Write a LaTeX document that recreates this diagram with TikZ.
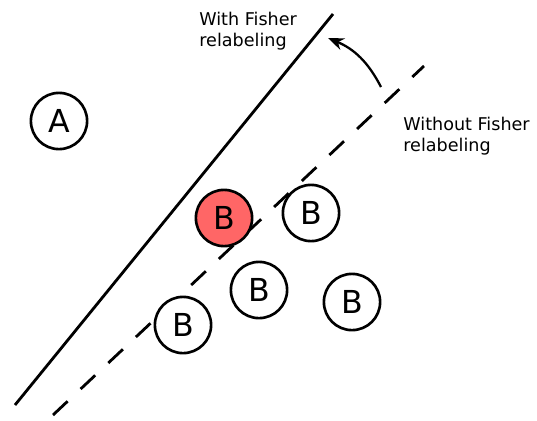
\documentclass[tikz,border=0pt]{standalone}
\usepackage{fontspec}
\setmainfont{DejaVu Sans}
\usetikzlibrary{arrows.meta}

\tikzset{
  cls/.style={circle,draw,line width=1.5pt,fill=white,minimum size=32pt,inner sep=0pt,font=\fontsize{18}{18}\selectfont},
  picked/.style={cls,fill=red!60!white},
  sep/.style={line width=1.6pt},
  lbl/.style={align=left,anchor=north west,inner sep=0pt,font=\fontsize{10}{12}\selectfont},
}

\begin{document}
\begin{tikzpicture}[x=0.02cm,y=-0.02cm]
      \useasboundingbox (0,0) rectangle (537,420);

      % separating lines
      \coordinate (s1) at (15,405);
      \coordinate (s2) at (333,14);
      \coordinate (d1) at (53,415);
      \coordinate (d2) at (424,66);
      \draw[sep] (s1) -- (s2);
      \draw[sep,dash pattern=on 11.4pt off 10.2pt] (d1) -- (d2);

      % classes
      \node[cls] (a) at (59,121) {A};
      \node[picked] (b1) at (224,218) {B};
      \node[cls] (b2) at (311,213) {B};
      \node[cls] (b3) at (259,290) {B};
      \node[cls] (b4) at (352,302) {B};
      \node[cls] (b5) at (183,325) {B};

      % labels
      \node[lbl] (with) at (199,12) {With Fisher\\relabeling};
      \node[lbl] (without) at (403,117) {Without Fisher\\relabeling};

      \coordinate (p1) at (381,87);
      \coordinate (p2) at (328,38);
      \draw[line width=1.3pt,-{Stealth[length=9pt,width=7pt]}] (p1) to[bend right=20] (p2);
    \end{tikzpicture}
\end{document}
